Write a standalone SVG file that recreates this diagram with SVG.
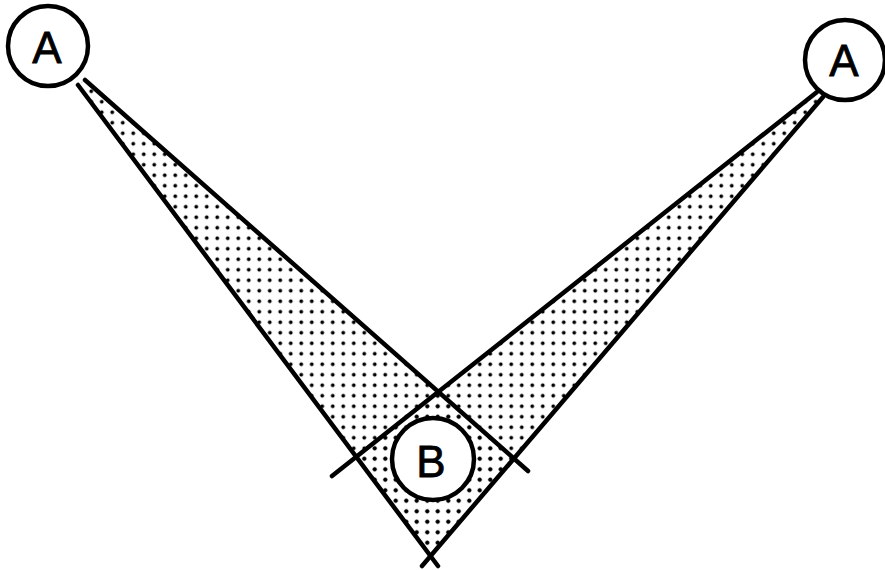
<svg xmlns="http://www.w3.org/2000/svg" width="885" height="570" viewBox="0 0 885 570">
  <defs>
    <pattern id="dots" patternUnits="userSpaceOnUse" x="2" y="2" width="10.5" height="10.5">
      <circle cx="5.25" cy="5.25" r="1.9" fill="#000"/>
    </pattern>
    <style>
      .beam { fill: url(#dots); stroke: none; }
      .edge { stroke: #000; stroke-width: 4.5; stroke-linecap: round; fill: none; }
      .node { fill: #fff; stroke: #000; stroke-width: 4.5; }
      .lbl { font-family: "Liberation Sans", Arial, sans-serif; font-size: 44px; fill: #000; stroke: #000; stroke-width: 0.8; text-anchor: middle; }
    </style>
  </defs>
  <rect width="885" height="570" fill="#fff"/>

  <g id="beams">
    <polygon class="beam" points="78,85 85,80 513,458 430,555"/>
    <polygon class="beam" points="817,92 823,97 430,555 357,457"/>
  </g>

  <g id="connectors">
    <line class="edge" x1="78" y1="85" x2="438" y2="566"/>
    <line class="edge" x1="85" y1="80" x2="528" y2="471"/>
    <line class="edge" x1="817" y1="92" x2="332" y2="476"/>
    <line class="edge" x1="823" y1="97" x2="422" y2="566"/>
  </g>

  <g id="nodeA1">
    <circle class="node" cx="48" cy="46" r="40"/>
    <text class="lbl" x="47" y="63">A</text>
  </g>
  <g id="nodeA2">
    <circle class="node" cx="845" cy="60" r="40"/>
    <text class="lbl" x="844" y="76">A</text>
  </g>
  <g id="nodeB">
    <circle class="node" cx="433" cy="459" r="41"/>
    <text class="lbl" x="431" y="477">B</text>
  </g>
</svg>
